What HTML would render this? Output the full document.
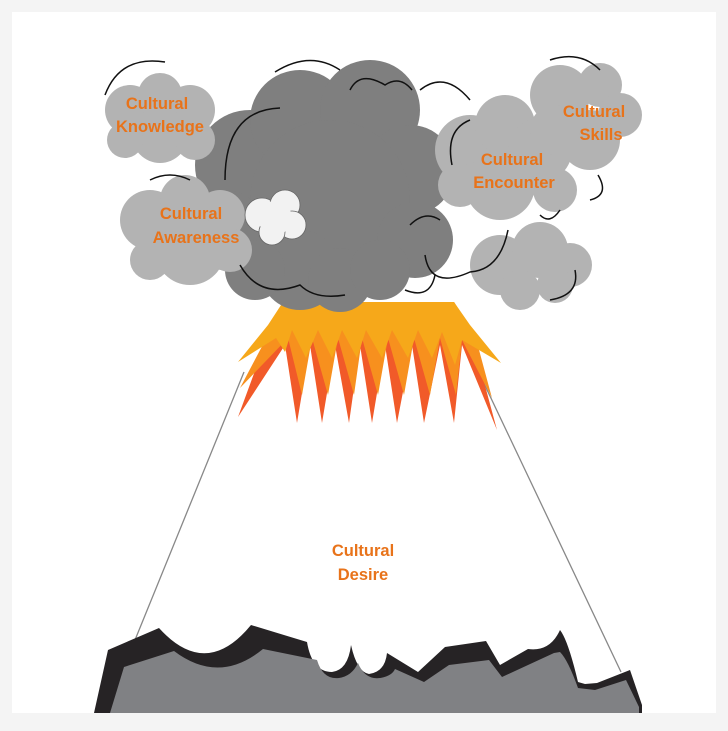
<!DOCTYPE html>
<html><head><meta charset="utf-8"><style>
html,body{margin:0;padding:0;background:#f4f4f4;}
svg{display:block;}
text{font-family:"Liberation Sans",sans-serif;font-size:16.5px;font-weight:bold;fill:#e8731a;text-anchor:middle;}
</style></head><body>
<svg width="728" height="731" viewBox="0 0 728 731" xmlns="http://www.w3.org/2000/svg">
<rect x="0" y="0" width="728" height="731" fill="#f4f4f4"/>
<rect x="12" y="12" width="704" height="701" fill="#fff"/>
<!-- mountain lines -->
<line x1="244" y1="372" x2="135" y2="640" stroke="#888" stroke-width="1.3"/>
<line x1="480" y1="375" x2="621" y2="672" stroke="#888" stroke-width="1.3"/>
<!-- ground -->
<path d="M94,713 L108,650 L159,628 Q206,680 251,625 L307,642 Q312,672 332,672 Q348,670 351,645 Q357,672 369,674 Q385,672 387,653 L418,672 L445,647 L486,641 L500,665 L528,649 Q550,652 560,630 Q568,640 578,682 L585,684 L597,683 L630,670 L642,705 L642,713 Z" fill="#262325"/>
<path d="M110,713 L124,667 L174,651 Q219,685 263,649 L317,660 Q323,680 339,678 Q352,676 358,663 Q365,680 380,678 Q392,676 395,669 L424,682 L449,665 L489,660 L502,677 L528,665 L554,653 L560,652 Q568,660 578,688 L595,690 L626,680 L639,707 L639,713 Z" fill="#808184"/>
<!-- flames -->
<path d="M283,302 L454,302 L470,330 L497,430 L462,345 L454,423 L440,345 L424,423 L412,345 L397,423 L385,345 L372,423 L360,345 L349,423 L335,345 L322,423 L310,345 L297,423 L285,345 L238,417 L270,330 Z" fill="#f15a29"/>
<path d="M283,302 L454,302 L475,335 L492,398 L462,340 L456,395 L440,338 L430,395 L414,338 L404,395 L388,338 L378,395 L362,338 L354,395 L338,338 L328,395 L312,338 L302,395 L288,338 L240,388 L268,335 Z" fill="#f7901e"/>
<path d="M283,302 L454,302 L470,325 L501,363 L462,340 L455,365 L442,332 L432,358 L418,330 L408,358 L392,330 L382,358 L366,330 L357,358 L342,330 L332,358 L318,330 L306,358 L292,330 L285,352 L276,338 L238,362 L268,325 Z" fill="#f6a81a"/>
<!-- main dark cloud -->
<g fill="#7f7f7f">
<circle cx="250" cy="165" r="55"/><circle cx="225" cy="230" r="40"/><circle cx="300" cy="120" r="50"/>
<circle cx="370" cy="110" r="50"/><circle cx="410" cy="170" r="45"/><circle cx="330" cy="200" r="80"/>
<circle cx="415" cy="240" r="38"/><circle cx="300" cy="270" r="40"/><circle cx="340" cy="280" r="32"/>
<circle cx="255" cy="270" r="30"/><circle cx="380" cy="270" r="30"/>
</g>
<!-- light clouds -->
<g fill="#b3b3b3">
<circle cx="130" cy="110" r="25"/><circle cx="160" cy="95" r="22"/><circle cx="190" cy="110" r="25"/><circle cx="160" cy="135" r="28"/><circle cx="195" cy="140" r="20"/><circle cx="125" cy="140" r="18"/>
<circle cx="150" cy="220" r="30"/><circle cx="185" cy="200" r="25"/><circle cx="220" cy="215" r="25"/><circle cx="190" cy="250" r="35"/><circle cx="150" cy="260" r="20"/><circle cx="230" cy="250" r="22"/>
<circle cx="470" cy="150" r="35"/><circle cx="505" cy="125" r="30"/><circle cx="540" cy="150" r="32"/><circle cx="500" cy="185" r="35"/><circle cx="555" cy="190" r="22"/><circle cx="460" cy="185" r="22"/>
<circle cx="560" cy="95" r="30"/><circle cx="600" cy="85" r="22"/><circle cx="620" cy="115" r="22"/><circle cx="590" cy="140" r="30"/><circle cx="555" cy="130" r="25"/>
<circle cx="500" cy="265" r="30"/><circle cx="540" cy="250" r="28"/><circle cx="570" cy="265" r="22"/><circle cx="520" cy="290" r="20"/><circle cx="555" cy="285" r="18"/>
</g>
<!-- white cloud -->
<g fill="#f2f2f2" stroke="#666" stroke-width="0.8">
<circle cx="262" cy="215" r="17"/><circle cx="285" cy="205" r="15"/><circle cx="292" cy="225" r="14"/><circle cx="272" cy="232" r="13"/>
</g>
<g fill="#f2f2f2"><circle cx="275" cy="218" r="17"/></g>
<!-- outlines -->
<g fill="none" stroke="#111" stroke-width="1.5">
<path d="M105,95 Q120,55 165,62"/>
<path d="M225,180 Q225,110 280,108"/>
<path d="M275,72 Q310,50 340,70"/>
<path d="M350,90 Q360,70 385,85 Q400,75 412,90"/>
<path d="M420,90 Q445,70 470,100"/>
<path d="M410,225 Q425,210 440,220"/>
<path d="M425,255 Q430,290 470,272 Q500,270 508,230"/>
<path d="M240,265 Q260,300 300,285 Q315,300 345,295"/>
<path d="M405,290 Q430,300 435,275"/>
<path d="M452,165 Q445,130 470,120"/>
<path d="M550,60 Q580,50 600,70"/>
<path d="M598,175 Q610,195 590,200"/>
<path d="M540,215 Q550,225 560,210"/>
<path d="M150,180 Q170,170 190,180"/>
<path d="M575,270 Q580,295 550,300"/>
</g>
<!-- labels -->
<text x="157" y="109">Cultural</text><text x="160" y="132">Knowledge</text>
<text x="191" y="219">Cultural</text><text x="196" y="243">Awareness</text>
<text x="512" y="165">Cultural</text><text x="514" y="188">Encounter</text>
<text x="594" y="117">Cultural</text><text x="601" y="140">Skills</text>
<text x="363" y="556">Cultural</text><text x="363" y="580">Desire</text>
</svg>
</body></html>
